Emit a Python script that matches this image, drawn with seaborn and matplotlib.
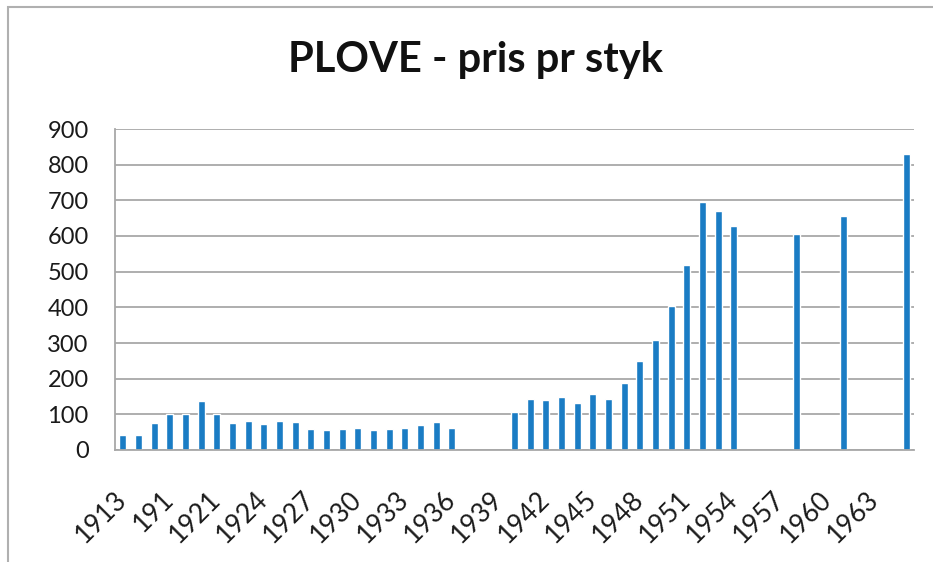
import numpy as np
import pandas as pd
import seaborn as sns
import matplotlib.pyplot as plt
from matplotlib.patches import Rectangle

# categories as they appear on the axis (the "191" label is in the original)
years = ["1913", "1914", "1915", "191", "1919", "1920"] + [str(y) for y in range(1921, 1966)]

prices = [42, 42, 77, 102, 102, 137, 102, 77, 80, 74,
          80, 78, 60, 56, 60, 63, 56, 60, 62, 70,
          78, 62, None, None, None, 107, 142, 139, 150, 132,
          156, 144, 189, 249, 309, 405, 520, 695, 671, 629,
          None, None, None, 607, None, None, 655, None, None, None,
          830]

title = "PLOVE - pris pr styk"
bar_color = "#1a7cc4"
grid_color = "#a8a8a8"

df = pd.DataFrame({"year": years, "pris": prices}).dropna()

sns.set_style("white")
plt.rcParams["font.family"] = ["Lato", "DejaVu Sans"]

fig = plt.figure(figsize=(9.33, 5.62), dpi=100)
ax = fig.add_axes([115 / 933, 1 - 450 / 562, 799 / 933, 321 / 562])

sns.barplot(data=df, x="year", y="pris", order=years, color=bar_color,
            saturation=1, width=0.44, errorbar=None, ax=ax)

ax.set_xlim(-0.5, len(years) - 0.5)
ax.set_ylim(0, 900)
ax.set_yticks(range(0, 901, 100))
ax.yaxis.grid(True, color=grid_color, lw=1.3)
ax.set_axisbelow(True)
ax.set_xlabel("")
ax.set_ylabel("")

# label every third category, tick marks between categories
major = list(range(0, len(years), 3))
ax.set_xticks(major)
ax.set_xticklabels([years[i] for i in major], rotation=45, ha="right",
                   va="center", rotation_mode="anchor")
ax.set_xticks(np.arange(-0.5, len(years), 1), minor=True)
ax.tick_params(axis="x", which="major", length=0, pad=33, labelsize=19, labelcolor="#1a1a1a")
ax.tick_params(axis="x", which="minor", length=5, width=1.2, color=grid_color)
ax.tick_params(axis="y", length=5, width=1.2, color=grid_color, pad=14,
               labelsize=17, labelcolor="#1a1a1a")

for side in ["top", "right"]:
    ax.spines[side].set_visible(False)
for side in ["left", "bottom"]:
    ax.spines[side].set_color(grid_color)
    ax.spines[side].set_linewidth(1.3)

fig.text(0.51, 1 - 60 / 562, title, ha="center", va="center",
         fontsize=30, fontweight="bold", color="#111111")

# outer chart frame (only left and top edges are inside the picture)
fig.add_artist(Rectangle((8 / 933, -0.5), 2, 0.5 + 1 - 7 / 562,
                         transform=fig.transFigure, fill=False,
                         ec="#b0b0b0", lw=1.5))

fig.savefig("out.png", dpi=100)
